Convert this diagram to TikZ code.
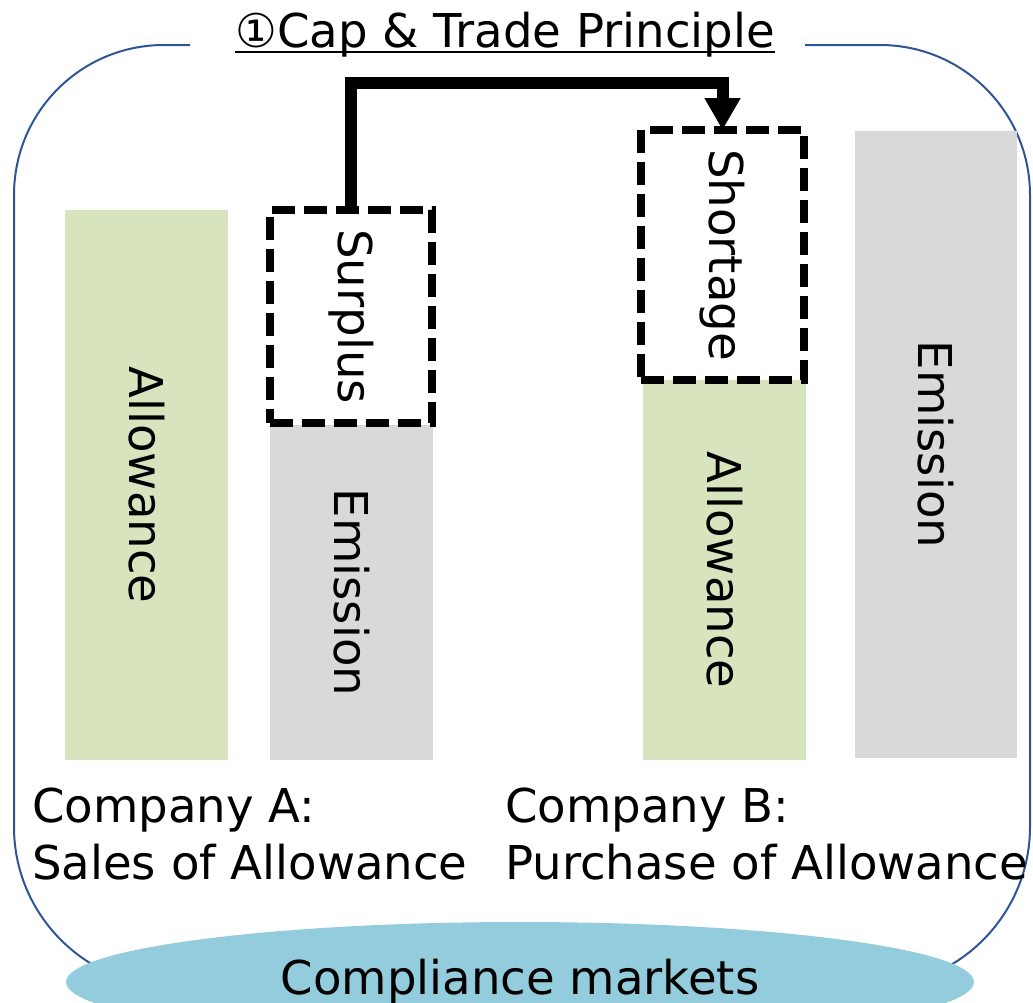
\documentclass[tikz,border=0pt]{standalone}
\usepackage{fontspec}
\setmainfont{DejaVu Sans}
\usetikzlibrary{arrows.meta}
\usetikzlibrary{shapes.geometric}

\definecolor{allowgreen}{HTML}{D7E4BD}
\definecolor{emitgray}{HTML}{D9D9D9}
\definecolor{marketblue}{HTML}{93CDDD}
\definecolor{frameblue}{HTML}{2F5597}

\begin{document}
\begin{tikzpicture}[x=1pt,y=-1pt,
        big/.style={font=\fontsize{46.6}{57}\selectfont},
        bar/.style={rectangle,inner sep=0pt,outer sep=0pt,anchor=north west,big},
        dashbox/.style={bar,draw=black,line width=8pt,dash pattern=on 23pt off 9pt},
        trade/.style={line width=12pt,-{Triangle[length=32pt,width=34pt]}}]
        \useasboundingbox (0,0) rectangle (1033,1002);
        \clip (0,0) rectangle (1033,1002);
        % frame
        \draw[frameblue,line width=2pt] (190,45) -- (164,45) .. controls (81,45) and (14,112) .. (14,195)
            -- (14,827) .. controls (14,915) and (86,987) .. (174,987) -- (870,987)
            .. controls (958,987) and (1030,915) .. (1030,827) -- (1030,195)
            .. controls (1030,112) and (963,45) .. (880,45) -- (805,45);
        \node[big,anchor=base,inner sep=0pt] (title) at (505,47) {①Cap \& Trade Principle};
        \draw[line width=2pt] ([yshift=-5pt]title.base west) -- ([yshift=-5pt]title.base east);
        % company A
        \node[bar,fill=allowgreen,minimum width=163pt,minimum height=550pt] (allowA) at (65,210) {\rotatebox{-90}{Allowance}};
        \node[bar,fill=emitgray,minimum width=163pt,minimum height=335pt] (emitA) at (270,425) {\rotatebox{-90}{Emission}};
        \node[dashbox,minimum width=162pt,minimum height=213pt] (surplus) at (270,210) {\rotatebox{-90}{Surplus}};
        % company B
        \node[bar,fill=allowgreen,minimum width=163pt,minimum height=380pt] (allowB) at (643,380) {\rotatebox{-90}{Allowance}};
        \node[bar,fill=emitgray,minimum width=162pt,minimum height=627pt] (emitB) at (855,131) {\rotatebox{-90}{Emission}};
        \node[dashbox,minimum width=163pt,minimum height=250pt] (shortage) at (641,130) {\rotatebox{-90}{Shortage}};
        \draw[trade] (surplus.north) -- ++(0,-127) -| (shortage.north);
        \node[big,align=left,anchor=base west,inner sep=0pt] (compA) at (32,879) {Company A:\\Sales of Allowance};
        \node[big,align=left,anchor=base west,inner sep=0pt] (compB) at (505,879) {Company B:\\Purchase of Allowance};
        % market
        \node[ellipse,fill=marketblue,minimum width=908pt,minimum height=120pt,inner sep=0pt,big] (market) at (520,982) {Compliance markets};
    \end{tikzpicture}
\end{document}
